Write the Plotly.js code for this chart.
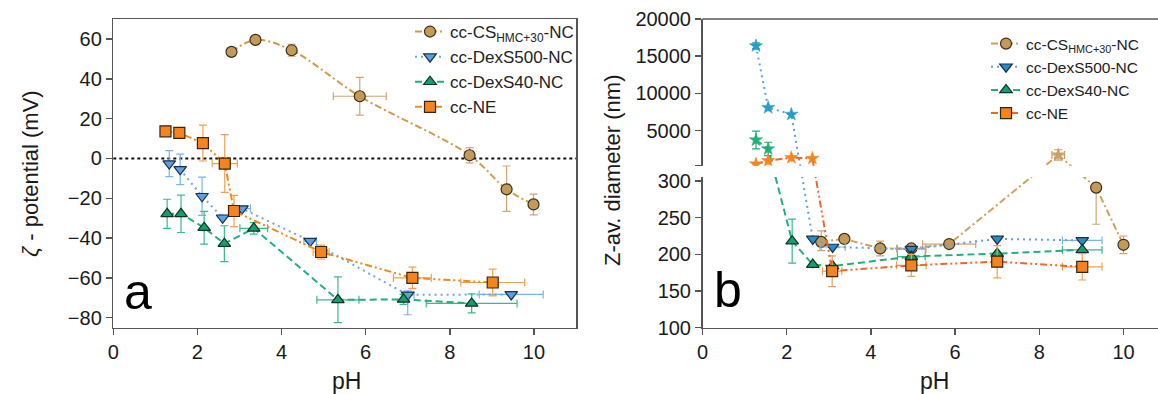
<!DOCTYPE html>
<html>
<head>
<meta charset="utf-8">
<script src="https://cdn.plot.ly/plotly-3.0.1.min.js"></script>
<style>html,body{margin:0;padding:0;background:#fff;}#chart{width:1158px;height:394px;}</style>
</head>
<body>
<div id="chart"></div>
<script>
// ---------------- DATA ----------------
const seriesNames = ['cc-CS<sub>HMC+30</sub>-NC', 'cc-DexS500-NC', 'cc-DexS40-NC', 'cc-NE'];

// Panel a : zeta potential (mV) vs pH
const csA_ph   = [2.81, 3.38, 4.24, 5.86, 8.47, 9.35, 9.99];
const csA_zeta = [53.5, 59.5, 54.3, 31.2, 1.6, -15.5, -23.1];
const csA_eyP  = [null, 1, 3, 9.5, 3.8, 11.7, 5.2];
const csA_eyM  = [null, 1, 3, 9.5, 3.8, 11.1, 5.2];
const csA_ex   = [null, null, null, 0.63, null, null, null];

const d500A_ph   = [1.33, 1.59, 2.11, 2.6, 3.06, 4.68, 7.0, 9.46];
const d500A_zeta = [-2.6, -5.5, -19, -29.8, -25.2, -41.5, -68.5, -68.3];
const d500A_eyP  = [6.5, 7.7, 9.6, null, null, null, 2, null];
const d500A_eyM  = [6.5, 7.7, 9.6, null, null, null, 10, null];
const d500A_ex   = [null, null, null, null, 0.2, 0.15, 0.15, 0.76];

const d40A_ph   = [1.28, 1.61, 2.16, 2.64, 3.34, 5.34, 6.9, 8.52];
const d40A_zeta = [-27.8, -27.8, -34.8, -42.8, -35.1, -71, -70.8, -72.8];
const d40A_ey   = [7.3, 9.4, 8.2, 9, 2.9, 11.5, 2.5, 4.8];
const d40A_ex   = [null, null, null, null, 0.33, 0.5, null, 1.08];

const neA_ph   = [1.24, 1.57, 2.13, 2.65, 2.87, 4.94, 7.11, 9.02];
const neA_zeta = [13.6, 12.8, 7.7, -2.6, -26.4, -47, -60, -62.3];
const neA_ey   = [1.5, 2, 9, 14.5, 7.8, 3.5, 5.4, 6.7];
const neA_ex   = [null, null, null, 0.3, null, 0.19, 0.45, 0.76];

// Panel b : Z-average diameter (nm) vs pH ; seg 'U' = upper (broken) axis part, 'L' = lower part
const csB_ph  = [2.82, 3.37, 4.22, 4.96, 5.86, 8.45, 9.35, 10.0];
const csB_d   = [217, 221, 208, 208, 214, 1740, 291, 213];
const csB_seg = ['L', 'L', 'L', 'L', 'L', 'U', 'L', 'L'];
const csB_eyP = [15, null, 10, null, null, 700, 6, 12];
const csB_eyM = [12, null, 10, null, null, 700, 50, 12];
const csB_ex  = [null, null, null, 0.35, 0.63, 0.15, null, null];

const d500B_ph  = [1.27, 1.56, 2.11, 2.62, 3.09, 4.96, 7.0, 9.02];
const d500B_d   = [16400, 8100, 7200, 221, 210, 207, 221, 219];
const d500B_seg = ['U', 'U', 'U', 'L', 'L', 'L', 'L', 'L'];
const d500B_ey  = [400, null, null, null, null, null, null, null];
const d500B_ex  = [null, null, null, null, 0.3, 0.33, null, 0.47];

const d40B_ph  = [1.27, 1.56, 2.13, 2.62, 3.09, 4.96, 7.0, 9.02];
const d40B_d   = [3750, 2550, 218, 186, 184, 197, 201, 206];
const d40B_seg = ['U', 'U', 'L', 'L', 'L', 'L', 'L', 'L'];
const d40B_ey  = [1200, 900, 30, null, null, null, null, null];
const d40B_ex  = [null, null, null, null, null, 0.33, null, 0.47];

const neB_ph  = [1.27, 1.56, 2.11, 2.61, 3.08, 4.96, 7.0, 9.02];
const neB_d   = [528, 970, 1374, 1290, 177, 185, 190, 183];
const neB_seg = ['U', 'U', 'U', 'U', 'L', 'L', 'L', 'L'];
const neB_ey  = [null, null, null, null, 21, 15, 22, 18];
const neB_ex  = [null, null, null, null, 0.23, 0.35, null, 0.47];

// tick labels
const xTicks = [0, 2, 4, 6, 8, 10];
const zetaTicks = [-80, -60, -40, -20, 0, 20, 40, 60];
const lowTicks = [100, 150, 200, 250, 300];
const upTicks = [300, 5000, 10000, 15000, 20000];
const upTickText = ['', '5000', '10000', '15000', '20000'];

// ---------------- STYLE ----------------
const FONT = 'Liberation Sans, Arial, Helvetica, sans-serif';
const AX = '#555';
const W = 1158, H = 394;
const px = v => v / W, py = v => 1 - v / H;

const yLow = {domain: [py(327.7), py(177)], range: [100, 305.4]};
const yUp  = {domain: [py(165.7), py(19)], range: [300, 20000]};
function toFrac(ax, v) { return ax.domain[0] + (v - ax.range[0]) / (ax.range[1] - ax.range[0]) * (ax.domain[1] - ax.domain[0]); }
function fromFrac(ax, f) { return ax.range[0] + (f - ax.domain[0]) / (ax.domain[1] - ax.domain[0]) * (ax.range[1] - ax.range[0]); }

const st = {
  cs:   {line: '#d29a4c', lineB: '#cfa060', fill: '#c49a58', edge: '#3b2e1c', sym: 'circle', dash: '7px,3px,2px,3px', err: '#cfa574', star: '#c8a064'},
  d500: {line: '#6aa8e4', lineB: '#5aa2e0', fill: '#5ba0e2', fillB: '#2a8cc2', edge: '#1b3048', sym: 'triangle-down', dash: '2px,4px', err: '#7ab4ea', star: '#2a9cc4'},
  d40:  {line: '#1fb07b', lineB: '#1fb07b', fill: '#1a9c6c', edge: '#0e3324', sym: 'triangle-up', dash: '7px,4px', err: '#3cb88c', star: '#22ae7c'},
  ne:   {line: '#f08a20', lineB: '#f0652a', fill: '#f5841f', edge: '#3a2410', sym: 'square', dash: '7px,3px,2px,3px,2px,3px', err: '#f2a050', star: '#f5841f'}
};

function errY(p, m, color) {
  const e = {type: 'data', array: p, visible: true, color: color, thickness: 1.2, width: 4};
  if (m) { e.symmetric = false; e.arrayminus = m; }
  return e;
}
function errX(a, color) { return {type: 'data', array: a, visible: true, color: color, thickness: 1.2, width: 4}; }

const traces = [];
function addA(name, s, x, y, eyP, eyM, ex, spline) {
  traces.push({
    type: 'scatter', mode: 'lines+markers', name: name, x: x, y: y, xaxis: 'x', yaxis: 'y',
    legend: 'legend', legendgroup: 'a' + name,
    line: {color: s.line, width: 2, dash: s.dash, shape: spline ? 'spline' : 'linear', smoothing: 1},
    marker: {symbol: s.sym, size: 11, color: s.fill, line: {color: s.edge, width: 1.2}},
    error_y: errY(eyP, eyM, s.err), error_x: errX(ex, s.err)
  });
}
addA(seriesNames[0], st.cs, csA_ph, csA_zeta, csA_eyP, csA_eyM, csA_ex, true);
addA(seriesNames[1], st.d500, d500A_ph, d500A_zeta, d500A_eyP, d500A_eyM, d500A_ex, false);
addA(seriesNames[2], st.d40, d40A_ph, d40A_zeta, d40A_ey, null, d40A_ex, false);
addA(seriesNames[3], st.ne, neA_ph, neA_zeta, neA_ey, null, neA_ex, false);

function addB(name, s, x, d, seg, eyP, eyM, ex) {
  // lower part: upper points are re-expressed in lower-axis units (they fall outside and are clipped)
  const yL = d.map((v, i) => seg[i] === 'L' ? v : fromFrac(yLow, toFrac(yUp, v)));
  const yU = d.map((v, i) => seg[i] === 'U' ? v : fromFrac(yUp, toFrac(yLow, v)));
  const only = (arr, tag) => arr ? arr.map((v, i) => seg[i] === tag ? v : null) : null;
  const exL = only(ex, 'L'), exU = only(ex, 'U');
  traces.push({
    type: 'scatter', mode: 'lines+markers', name: name, x: x, y: yL, xaxis: 'x2', yaxis: 'y2',
    legend: 'legend2', legendgroup: 'b' + name,
    line: {color: s.lineB, width: 2, dash: s.dash},
    marker: {symbol: s.sym, size: 11, color: s.fillB || s.fill, line: {color: s.edge, width: 1.2}},
    error_y: errY(only(eyP, 'L'), only(eyM, 'L'), s.err), error_x: errX(exL, s.err)
  });
  traces.push({
    type: 'scatter', mode: 'lines+markers', name: name, x: x, y: yU, xaxis: 'x2', yaxis: 'y3',
    showlegend: false, legendgroup: 'b' + name,
    line: {color: s.lineB, width: 2, dash: s.dash},
    marker: {symbol: 'star', size: 10, color: s.star, line: {color: s.star, width: 0.5}},
    error_y: errY(only(eyP, 'U'), eyM ? only(eyM, 'U') : null, s.star), error_x: errX(exU, s.star)
  });
}
addB(seriesNames[0], st.cs, csB_ph, csB_d, csB_seg, csB_eyP, csB_eyM, csB_ex);
addB(seriesNames[1], st.d500, d500B_ph, d500B_d, d500B_seg, d500B_ey, null, d500B_ex);
addB(seriesNames[2], st.d40, d40B_ph, d40B_d, d40B_seg, d40B_ey, null, d40B_ex);
addB(seriesNames[3], st.ne, neB_ph, neB_d, neB_seg, neB_ey, null, neB_ex);

const tickFont = {family: FONT, size: 20, color: '#1a1a1a'};
const axBase = {showline: true, linecolor: AX, linewidth: 1.5, ticks: 'outside', ticklen: 6, tickwidth: 1.5,
  tickcolor: AX, showgrid: false, zeroline: false, tickfont: tickFont, fixedrange: true};

const layout = {
  width: W, height: H, margin: {l: 0, r: 0, t: 0, b: 0},
  paper_bgcolor: '#fff', plot_bgcolor: 'rgba(0,0,0,0)',
  font: {family: FONT, color: '#1a1a1a'},
  xaxis: Object.assign({}, axBase, {domain: [px(113.3), px(576)], range: [0, 11], tickvals: xTicks, anchor: 'y', mirror: true}),
  yaxis: Object.assign({}, axBase, {domain: [py(327.7), py(19)], range: [-85, 70], tickvals: zetaTicks, anchor: 'x', mirror: true}),
  xaxis2: Object.assign({}, axBase, {domain: [px(702.5), 1], range: [0, (W - 702.5) / 42.1], tickvals: xTicks, anchor: 'y2'}),
  yaxis2: Object.assign({}, axBase, {domain: yLow.domain, range: yLow.range, tickvals: lowTicks, anchor: 'x2'}),
  yaxis3: Object.assign({}, axBase, {domain: yUp.domain, range: yUp.range, tickvals: upTicks, ticktext: upTickText, anchor: 'x2'}),
  legend: {x: px(410), y: py(14), xanchor: 'left', yanchor: 'top', bgcolor: 'rgba(0,0,0,0)',
    font: {family: FONT, size: 17, color: '#222'}, itemwidth: 30, tracegroupgap: 0},
  legend2: {x: px(986), y: py(27), xanchor: 'left', yanchor: 'top', bgcolor: 'rgba(0,0,0,0)',
    font: {family: FONT, size: 15.5, color: '#222'}, itemwidth: 30, tracegroupgap: 0},
  shapes: [
    {type: 'line', xref: 'x domain', yref: 'y', x0: 0, x1: 1, y0: 0, y1: 0, layer: 'below',
     line: {color: '#111', width: 2, dash: 'dot'}},
    {type: 'line', xref: 'paper', yref: 'paper', x0: px(702.5), x1: 1, y0: py(19), y1: py(19),
     line: {color: AX, width: 1.5}}
  ],
  annotations: [
    {text: 'a', xref: 'paper', yref: 'paper', x: px(122), y: py(292), xanchor: 'left', yanchor: 'middle',
     showarrow: false, font: {family: FONT, size: 50, color: '#000'}},
    {text: 'b', xref: 'paper', yref: 'paper', x: px(712), y: py(290), xanchor: 'left', yanchor: 'middle',
     showarrow: false, font: {family: FONT, size: 50, color: '#000'}},
    {text: 'pH', xref: 'paper', yref: 'paper', x: px(346), y: py(381), xanchor: 'center', yanchor: 'middle',
     showarrow: false, font: {family: FONT, size: 23, color: '#1a1a1a'}},
    {text: 'pH', xref: 'paper', yref: 'paper', x: px(935), y: py(381), xanchor: 'center', yanchor: 'middle',
     showarrow: false, font: {family: FONT, size: 23, color: '#1a1a1a'}},
    {text: '<i>ζ</i> - potential (mV)', xref: 'paper', yref: 'paper', x: px(30), y: py(174), xanchor: 'center', yanchor: 'middle',
     textangle: -90, showarrow: false, font: {family: FONT, size: 22, color: '#1a1a1a'}},
    {text: 'Z-av. diameter (nm)', xref: 'paper', yref: 'paper', x: px(612), y: py(170), xanchor: 'center', yanchor: 'middle',
     textangle: -90, showarrow: false, font: {family: FONT, size: 22, color: '#1a1a1a'}}
  ]
};

Plotly.newPlot('chart', traces, layout, {staticPlot: true, displayModeBar: false});
</script>
</body>
</html>
